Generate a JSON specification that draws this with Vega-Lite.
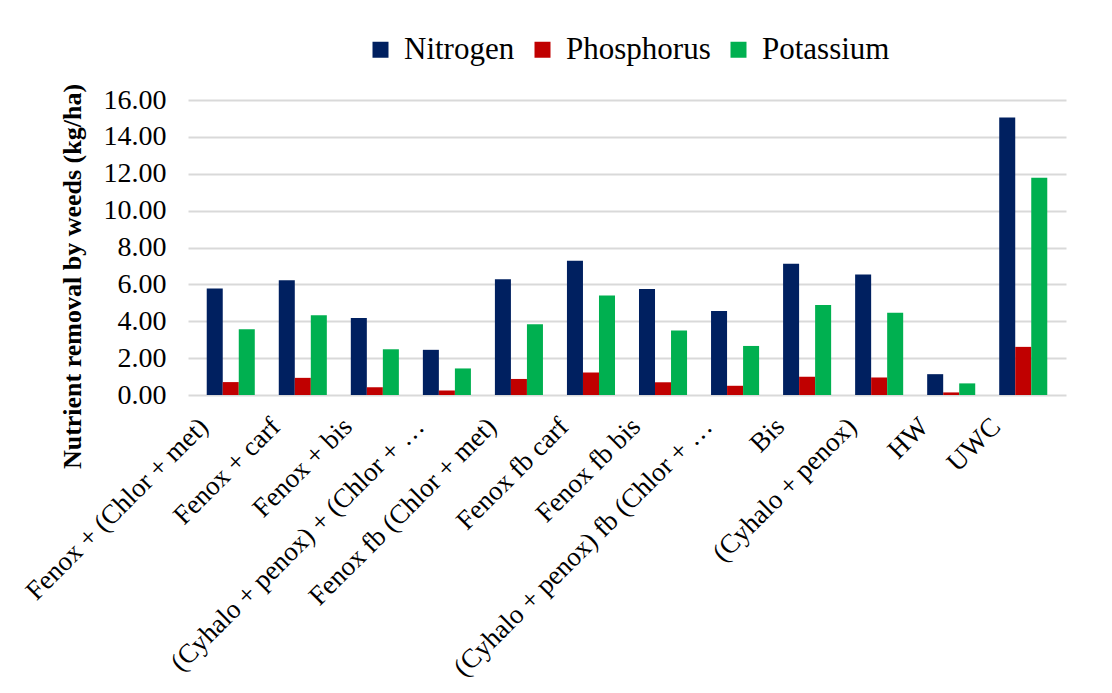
{
  "$schema": "https://vega.github.io/schema/vega-lite/v6.json",
  "width": 878,
  "height": 295,
  "autosize": {"type": "none"},
  "padding": {"left": 188, "top": 100, "right": 46, "bottom": 298},
  "background": "white",
  "config": {
    "font": "Times New Roman, Liberation Serif, serif",
    "view": {"stroke": null},
    "axis": {"labelFont": "Times New Roman, Liberation Serif, serif", "titleFont": "Times New Roman, Liberation Serif, serif"},
    "legend": {"labelFont": "Times New Roman, Liberation Serif, serif", "titleFont": "Times New Roman, Liberation Serif, serif"}
  },
  "data": {
    "values": [
      {"treatment": "Fenox + (Chlor + met)", "nutrient": "Nitrogen", "value": 5.78},
      {"treatment": "Fenox + (Chlor + met)", "nutrient": "Phosphorus", "value": 0.70},
      {"treatment": "Fenox + (Chlor + met)", "nutrient": "Potassium", "value": 3.56},
      {"treatment": "Fenox + carf", "nutrient": "Nitrogen", "value": 6.22},
      {"treatment": "Fenox + carf", "nutrient": "Phosphorus", "value": 0.93},
      {"treatment": "Fenox + carf", "nutrient": "Potassium", "value": 4.33},
      {"treatment": "Fenox + bis", "nutrient": "Nitrogen", "value": 4.18},
      {"treatment": "Fenox + bis", "nutrient": "Phosphorus", "value": 0.42},
      {"treatment": "Fenox + bis", "nutrient": "Potassium", "value": 2.48},
      {"treatment": "(Cyhalo + penox) + (Chlor + …", "nutrient": "Nitrogen", "value": 2.45},
      {"treatment": "(Cyhalo + penox) + (Chlor + …", "nutrient": "Phosphorus", "value": 0.24},
      {"treatment": "(Cyhalo + penox) + (Chlor + …", "nutrient": "Potassium", "value": 1.44},
      {"treatment": "Fenox fb (Chlor + met)", "nutrient": "Nitrogen", "value": 6.28},
      {"treatment": "Fenox fb (Chlor + met)", "nutrient": "Phosphorus", "value": 0.87},
      {"treatment": "Fenox fb (Chlor + met)", "nutrient": "Potassium", "value": 3.84},
      {"treatment": "Fenox fb carf", "nutrient": "Nitrogen", "value": 7.28},
      {"treatment": "Fenox fb carf", "nutrient": "Phosphorus", "value": 1.22},
      {"treatment": "Fenox fb carf", "nutrient": "Potassium", "value": 5.40},
      {"treatment": "Fenox fb bis", "nutrient": "Nitrogen", "value": 5.75},
      {"treatment": "Fenox fb bis", "nutrient": "Phosphorus", "value": 0.69},
      {"treatment": "Fenox fb bis", "nutrient": "Potassium", "value": 3.50},
      {"treatment": "(Cyhalo + penox) fb (Chlor + …", "nutrient": "Nitrogen", "value": 4.55},
      {"treatment": "(Cyhalo + penox) fb (Chlor + …", "nutrient": "Phosphorus", "value": 0.50},
      {"treatment": "(Cyhalo + penox) fb (Chlor + …", "nutrient": "Potassium", "value": 2.66},
      {"treatment": "Bis", "nutrient": "Nitrogen", "value": 7.12},
      {"treatment": "Bis", "nutrient": "Phosphorus", "value": 0.99},
      {"treatment": "Bis", "nutrient": "Potassium", "value": 4.88},
      {"treatment": "(Cyhalo + penox)", "nutrient": "Nitrogen", "value": 6.53},
      {"treatment": "(Cyhalo + penox)", "nutrient": "Phosphorus", "value": 0.95},
      {"treatment": "(Cyhalo + penox)", "nutrient": "Potassium", "value": 4.46},
      {"treatment": "HW", "nutrient": "Nitrogen", "value": 1.13},
      {"treatment": "HW", "nutrient": "Phosphorus", "value": 0.14},
      {"treatment": "HW", "nutrient": "Potassium", "value": 0.63},
      {"treatment": "UWC", "nutrient": "Nitrogen", "value": 15.05},
      {"treatment": "UWC", "nutrient": "Phosphorus", "value": 2.61},
      {"treatment": "UWC", "nutrient": "Potassium", "value": 11.78}
    ]
  },
  "mark": {"type": "bar"},
  "encoding": {
    "x": {
      "field": "treatment",
      "type": "nominal",
      "sort": null,
      "scale": {"paddingInner": 0.333, "paddingOuter": 0.26},
      "axis": {
        "title": null,
        "labelAngle": -45,
        "labelFontSize": 27,
        "labelColor": "#000000",
        "labelLimit": 500,
        "labelPadding": 18,
        "labelOffset": -36,
        "ticks": false,
        "domain": false,
        "grid": false
      }
    },
    "xOffset": {
      "field": "nutrient",
      "type": "nominal",
      "sort": ["Nitrogen", "Phosphorus", "Potassium"],
      "scale": {"paddingInner": 0, "paddingOuter": 0}
    },
    "y": {
      "field": "value",
      "type": "quantitative",
      "scale": {"domain": [0, 16], "nice": false},
      "axis": {
        "title": "Nutrient removal by weeds (kg/ha)",
        "titleFontSize": 26,
        "titleFontWeight": "bold",
        "titleColor": "#000000",
        "titlePadding": 18,
        "titleY": 176,
        "values": [0, 2, 4, 6, 8, 10, 12, 14, 16],
        "format": ".2f",
        "labelFontSize": 28,
        "labelColor": "#000000",
        "labelPadding": 22,
        "ticks": false,
        "domain": false,
        "grid": true,
        "gridColor": "#d9d9d9",
        "gridWidth": 2
      }
    },
    "color": {
      "field": "nutrient",
      "type": "nominal",
      "sort": ["Nitrogen", "Phosphorus", "Potassium"],
      "scale": {
        "domain": ["Nitrogen", "Phosphorus", "Potassium"],
        "range": ["#002060", "#C00000", "#00B050"]
      },
      "legend": {
        "title": null,
        "orient": "none",
        "direction": "horizontal",
        "legendX": 177,
        "legendY": -66,
        "symbolType": "square",
        "symbolSize": 256,
        "symbolStrokeWidth": 0,
        "labelFontSize": 31,
        "labelColor": "#000000",
        "labelOffset": 8,
        "columnPadding": 12,
        "labelLimit": 300
      }
    }
  }
}
